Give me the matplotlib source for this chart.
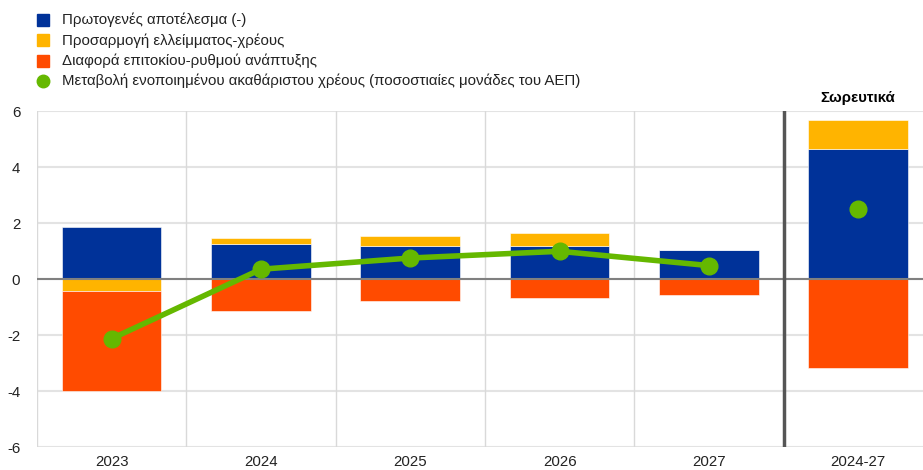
import numpy as np
import matplotlib.pyplot as plt

plt.rcParams['font.family'] = ['Liberation Sans', 'DejaVu Sans']
plt.rcParams['axes.unicode_minus'] = False

categories = ["2023", "2024", "2025", "2026", "2027", "2024-27"]
primary_balance = [1.85, 1.26, 1.17, 1.17, 1.04, 4.64]
deficit_debt_adj = [-0.42, 0.19, 0.37, 0.48, 0.0, 1.03]
interest_growth = [-3.57, -1.13, -0.80, -0.67, -0.58, -3.18]
debt_change = [-2.13, 0.35, 0.75, 0.99, 0.48, 2.50]

labels = [
    "Πρωτογενές αποτέλεσμα (-)",
    "Προσαρμογή ελλείμματος-χρέους",
    "Διαφορά επιτοκίου-ρυθμού ανάπτυξης",
    "Μεταβολή ενοποιημένου ακαθάριστου χρέους (ποσοστιαίες μονάδες του ΑΕΠ)",
]
colors = ["#003299", "#FFB400", "#FF4B00", "#65B800"]

fig = plt.figure(figsize=(9.23, 4.70), dpi=100)
ax = fig.add_axes([0.0401, 0.0489, 0.9599, 0.7149])

x = np.arange(len(categories))
width = 0.667

# stack positives upward and negatives downward
pos_base = np.zeros(len(x))
neg_base = np.zeros(len(x))
for vals, col in zip([primary_balance, deficit_debt_adj, interest_growth], colors[:3]):
    v = np.array(vals)
    bottoms = np.where(v >= 0, pos_base, neg_base)
    ax.bar(x, v, width, bottom=bottoms, color=col, edgecolor="white",
           linewidth=0.4, zorder=3)
    pos_base += np.where(v >= 0, v, 0)
    neg_base += np.where(v < 0, v, 0)

# yearly debt change as a line, cumulative as a lone dot
ax.plot(x[:5], debt_change[:5], color=colors[3], lw=4, marker="o", ms=12,
        zorder=5, solid_capstyle="round")
ax.plot(x[5], debt_change[5], "o", color=colors[3], ms=12, zorder=5)

ax.set_xlim(-0.5, 5.434)
ax.set_ylim(-6, 6)
ax.set_yticks(range(-6, 7, 2))
ax.set_xticks(x)
ax.set_xticklabels(categories)
ax.tick_params(length=0, labelsize=10.8, colors="#222222")
ax.tick_params(axis="y", pad=12)
ax.tick_params(axis="x", pad=6)

for y in range(-6, 7, 2):
    ax.axhline(y, color="#e3e3e3", lw=1.5, zorder=0)
for b in np.arange(-0.5, 5, 1.0):
    ax.axvline(b, color="#d9d9d9", lw=1.0, zorder=0)
ax.axhline(0, color="#808080", lw=1.5, zorder=4)
ax.axvline(4.5, color="#555555", lw=2.5, zorder=6)

for s in ax.spines.values():
    s.set_visible(False)

ax.text(5, 6.22, "Σωρευτικά", ha="center", va="bottom", fontsize=10.8,
        fontweight="bold", clip_on=False)

# legend rows at the top
for i, (lab, col) in enumerate(zip(labels, colors)):
    yy = 1 - (20 + i * 20.3) / 470
    if i < 3:
        fig.patches.append(plt.Rectangle((37 / 923, yy - 6 / 470), 12 / 923, 12 / 470,
                                         transform=fig.transFigure, color=col))
    else:
        fig.lines.append(plt.Line2D([43 / 923], [yy], marker="o", ms=9, color=col,
                                    transform=fig.transFigure))
    fig.text(62 / 923, yy, lab, va="center", ha="left", fontsize=10.8,
             color="#222222")

fig.savefig("out.png", dpi=100)
